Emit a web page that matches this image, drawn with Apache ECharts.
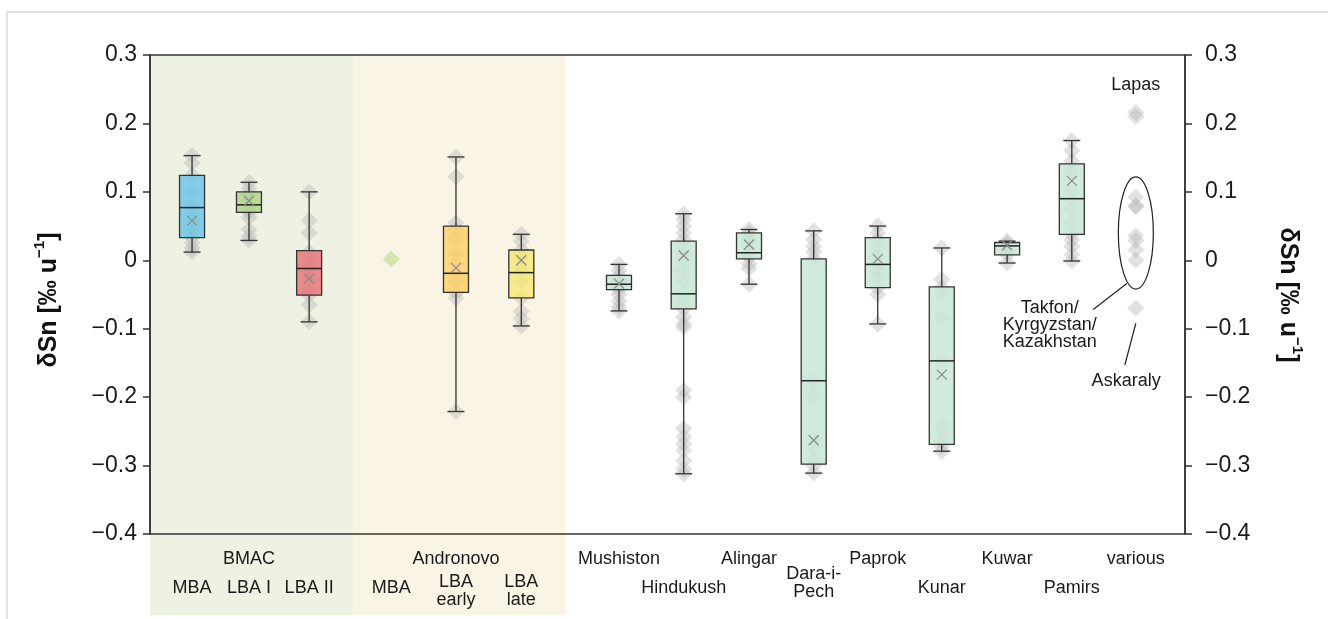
<!DOCTYPE html>
<html><head><meta charset="utf-8">
<script src="https://cdn.jsdelivr.net/npm/echarts@6/dist/echarts.min.js"></script>
<style>html,body{margin:0;padding:0;background:#fff}#c{width:1328px;height:619px}</style>
</head><body><div id="c"></div>
<script>
// ---------------- DATA ----------------
const categories = ['MBA','LBA I','LBA II','MBA','LBA\nearly','LBA\nlate','Mushiston','Hindukush','Alingar','Dara-i-\nPech','Paprok','Kunar','Kuwar','Pamirs','various'];
const periodGroups = ['BMAC','Andronovo'];
const yTicks = [-0.4,-0.3,-0.2,-0.1,0,0.1,0.2,0.3];

// categories with a box (index into categories)
const boxCategories = [0,1,2,4,5,6,7,8,9,10,11,12,13];
const whiskerMin = [0.012, 0.029,-0.090,-0.221,-0.096,-0.074,-0.312,-0.035,-0.311,-0.093,-0.279,-0.004,-0.001];
const q1         = [0.033, 0.070,-0.051,-0.047,-0.055,-0.043,-0.071, 0.002,-0.298,-0.040,-0.269, 0.008, 0.038];
const median     = [0.077, 0.081,-0.012,-0.019,-0.018,-0.035,-0.049, 0.011,-0.176,-0.006,-0.147, 0.021, 0.090];
const q3         = [0.124, 0.100, 0.014, 0.050, 0.015,-0.022, 0.028, 0.040, 0.002, 0.033,-0.039, 0.026, 0.141];
const whiskerMax = [0.153, 0.114, 0.100, 0.151, 0.038,-0.006, 0.068, 0.045, 0.043, 0.050, 0.018, 0.028, 0.175];
const mean       = [0.058, 0.087,-0.027,-0.011, 0.000,-0.034, 0.007, 0.023,-0.263, 0.002,-0.167, 0.022, 0.116];

// individual measurements per category
const points = [
  [0.153,0.142,0.124,0.100,0.077,0.060,0.045,0.033,0.025,0.018,0.012],
  [0.114,0.105,0.097,0.088,0.081,0.075,0.070,0.062,0.045,0.035,0.029],
  [0.100,0.058,0.040,0.012,-0.005,-0.012,-0.030,-0.045,-0.051,-0.065,-0.090],
  [0.002],
  [0.151,0.122,0.055,0.045,0.030,0.010,-0.005,-0.019,-0.030,-0.047,-0.055,-0.221],
  [0.038,0.028,0.015,0.005,-0.010,-0.018,-0.030,-0.055,-0.075,-0.085,-0.096],
  [-0.006,-0.015,-0.022,-0.028,-0.033,-0.035,-0.038,-0.043,-0.050,-0.060,-0.068,-0.074],
  [0.068,0.060,0.050,0.040,0.030,0.020,0.010,0.000,-0.015,-0.030,-0.049,-0.060,-0.071,-0.083,-0.093,-0.098,-0.190,-0.200,-0.246,-0.258,-0.268,-0.278,-0.293,-0.305,-0.312],
  [0.045,0.040,0.030,0.020,0.011,0.005,-0.005,-0.012,-0.035],
  [0.043,0.030,0.020,0.012,0.002,-0.176,-0.190,-0.200,-0.262,-0.275,-0.290,-0.300,-0.311],
  [0.050,0.040,0.030,0.018,0.005,-0.006,-0.015,-0.025,-0.040,-0.050,-0.093],
  [0.018,-0.028,-0.040,-0.050,-0.085,-0.147,-0.240,-0.250,-0.265,-0.272,-0.279],
  [0.028,0.025,0.021,0.015,0.008,-0.004],
  [0.175,0.160,0.145,0.130,0.100,0.090,0.075,0.055,0.038,0.030,0.020,0.008,-0.001],
  [0.216,0.210,0.092,0.080,0.078,0.036,0.029,0.015,0.000,-0.070]
];
const annotations = ['Lapas','Takfon/\nKyrgyzstan/\nKazakhstan','Askaraly'];

// ---------------- LAYOUT / STYLE ----------------
const slotX = [0.65,1.53,2.46,3.73,4.73,5.74,7.25,8.25,9.26,10.26,11.25,12.24,13.25,14.25,15.24];
const labelY = [588,588,588,588,591,591,559,588,559,583,559,588,559,588,559];
const groupLabelSlot = [1,4];
const bandEdges = [[0,3.14,'#eef2e2'],[3.14,6.42,'#faf4e5']];
const boxColors = ['#6ec5e6','#b3d68c','#e8787a','#fdd06c','#f4e87a','#c8e8d5','#c8e8d5','#c8e8d5','#c8e8d5','#c8e8d5','#c8e8d5','#c8e8d5','#c8e8d5'];
const FONT = '"Liberation Sans", Arial, sans-serif';
const DARK = '#333333';

const fmt = v => Math.abs(v) < 1e-9 ? '0' : (v < 0 ? '\u2212' : '') + Math.abs(v).toFixed(1);

const scatterData = [];
points.forEach((arr, ci) => arr.forEach(v => scatterData.push({
  value: [slotX[ci], v],
  itemStyle: ci === 3 ? {color:'#cfe3ab', opacity:0.9} : undefined
})));

const boxData = boxCategories.map((c, i) => [slotX[c], whiskerMin[i], q1[i], median[i], q3[i], whiskerMax[i], mean[i]]);

const chart = echarts.init(document.getElementById('c'), null, {renderer:'canvas'});

const yAxisBase = {
  type:'value', min:-0.4, max:0.3, interval:0.1,
  axisLine:{show:true, lineStyle:{color:DARK, width:1.5}},
  axisTick:{show:true, inside:false, length:7, lineStyle:{color:DARK, width:1.5}},
  splitLine:{show:false},
  axisLabel:{formatter:fmt, color:'#1a1a1a', fontSize:23, fontFamily:FONT}
};

chart.setOption({
  animation:false,
  backgroundColor:'#ffffff',
  grid:{left:150, right:143, top:55, bottom:85, show:true, borderColor:DARK, borderWidth:1.5, backgroundColor:'transparent'},
  xAxis:{type:'value', min:0, max:16, show:false},
  yAxis:[
    Object.assign({}, yAxisBase, {position:'left', axisLabel:Object.assign({}, yAxisBase.axisLabel, {margin:13})}),
    Object.assign({}, yAxisBase, {position:'right', axisLabel:Object.assign({}, yAxisBase.axisLabel, {margin:20})})
  ],
  series:[
    {
      type:'scatter', symbol:'diamond', symbolSize:17, z:2,
      itemStyle:{color:'#b8b8b8', opacity:0.42},
      data:scatterData
    },
    {
      type:'custom', z:3,
      data:boxData,
      renderItem:(params, api) => {
        const x = api.value(0);
        const p = i => api.coord([x, api.value(i)]);
        const lo = p(1), b1 = p(2), md = p(3), b3 = p(4), hi = p(5), mn = p(6);
        const cx = lo[0], bw = 25, cw = 17, m = 5;
        const ls = {stroke:DARK, lineWidth:1.3};
        return {type:'group', children:[
          {type:'line', shape:{x1:cx,y1:hi[1],x2:cx,y2:b3[1]}, style:ls},
          {type:'line', shape:{x1:cx,y1:b1[1],x2:cx,y2:lo[1]}, style:ls},
          {type:'line', shape:{x1:cx-cw/2,y1:hi[1],x2:cx+cw/2,y2:hi[1]}, style:ls},
          {type:'line', shape:{x1:cx-cw/2,y1:lo[1],x2:cx+cw/2,y2:lo[1]}, style:ls},
          {type:'rect', shape:{x:cx-bw/2, y:b3[1], width:bw, height:b1[1]-b3[1]},
            style:{fill:boxColors[params.dataIndex], opacity:0.85, stroke:null}},
          {type:'rect', shape:{x:cx-bw/2, y:b3[1], width:bw, height:b1[1]-b3[1]},
            style:{fill:null, stroke:DARK, lineWidth:1.3}},
          {type:'line', shape:{x1:cx-bw/2,y1:md[1],x2:cx+bw/2,y2:md[1]}, style:{stroke:'#222', lineWidth:1.5}},
          {type:'line', shape:{x1:cx-m,y1:mn[1]-m,x2:cx+m,y2:mn[1]+m}, style:{stroke:'#8a8a8a', lineWidth:1.2}},
          {type:'line', shape:{x1:cx-m,y1:mn[1]+m,x2:cx+m,y2:mn[1]-m}, style:{stroke:'#8a8a8a', lineWidth:1.2}}
        ]};
      }
    }
  ]
});

function px(x, y){ return chart.convertToPixel({gridIndex:0}, [x, y]); }

const g = [];
// outer frame
g.push({type:'rect', shape:{x:7, y:12, width:1400, height:700}, style:{fill:null, stroke:'#c8c8c8', lineWidth:1}, z:-20, silent:true});
// background bands
bandEdges.forEach(([a, b, col]) => {
  const pa = px(a, 0.3), pb = px(b, 0.3);
  g.push({type:'rect', shape:{x:pa[0], y:pa[1], width:pb[0]-pa[0], height:615-pa[1]}, style:{fill:col}, z:-10, silent:true});
});
// category labels
const txt = (x, y, text, extra) => Object.assign({type:'text', x, y, z:10, silent:true,
  style:Object.assign({text, fill:'#1a1a1a', font:'18px '+FONT, align:'center', verticalAlign:'middle', lineHeight:18}, extra||{})});
categories.forEach((c, i) => g.push(txt(px(slotX[i],0)[0], labelY[i], c)));
periodGroups.forEach((c, i) => g.push(txt(px(slotX[groupLabelSlot[i]],0)[0], 559, c)));

// annotations
const lap = px(15.24, 0.256);
g.push(txt(lap[0], lap[1], annotations[0]));
const ec = px(15.24, 0.040), et = px(15.24, 0.122);
g.push({type:'ellipse', shape:{cx:ec[0], cy:ec[1], rx:17.5, ry:ec[1]-et[1]}, style:{fill:null, stroke:'#222', lineWidth:1.2}, z:10});
const l1a = px(15.10,-0.034), l1b = px(14.58,-0.072);
g.push({type:'line', shape:{x1:l1a[0],y1:l1a[1],x2:l1b[0],y2:l1b[1]}, style:{stroke:'#222', lineWidth:1.2}, z:10});
const tk = px(13.91,-0.095);
g.push(txt(tk[0], tk[1], annotations[1], {lineHeight:17}));
const l2a = px(15.24,-0.092), l2b = px(15.07,-0.153);
g.push({type:'line', shape:{x1:l2a[0],y1:l2a[1],x2:l2b[0],y2:l2b[1]}, style:{stroke:'#222', lineWidth:1.2}, z:10});
const ak = px(15.09,-0.176);
g.push(txt(ak[0], ak[1], annotations[2]));

// axis titles
const titleRich = {
  a:{font:'bold 25px '+FONT, fill:'#111', lineHeight:29, verticalAlign:'bottom'},
  s:{font:'bold 15px '+FONT, fill:'#111', lineHeight:29, verticalAlign:'top'}
};
const titleText = '{a|\u03B4Sn [\u2030 u}{s|\u22121}{a|]}';
g.push({type:'text', x:47, y:300, rotation:Math.PI/2, z:10,
  style:{text:titleText, rich:titleRich, align:'center', verticalAlign:'middle'}});
g.push({type:'text', x:1290, y:295, rotation:-Math.PI/2, z:10,
  style:{text:titleText, rich:titleRich, align:'center', verticalAlign:'middle'}});

chart.setOption({graphic:{elements:g}});
</script>
</body></html>
